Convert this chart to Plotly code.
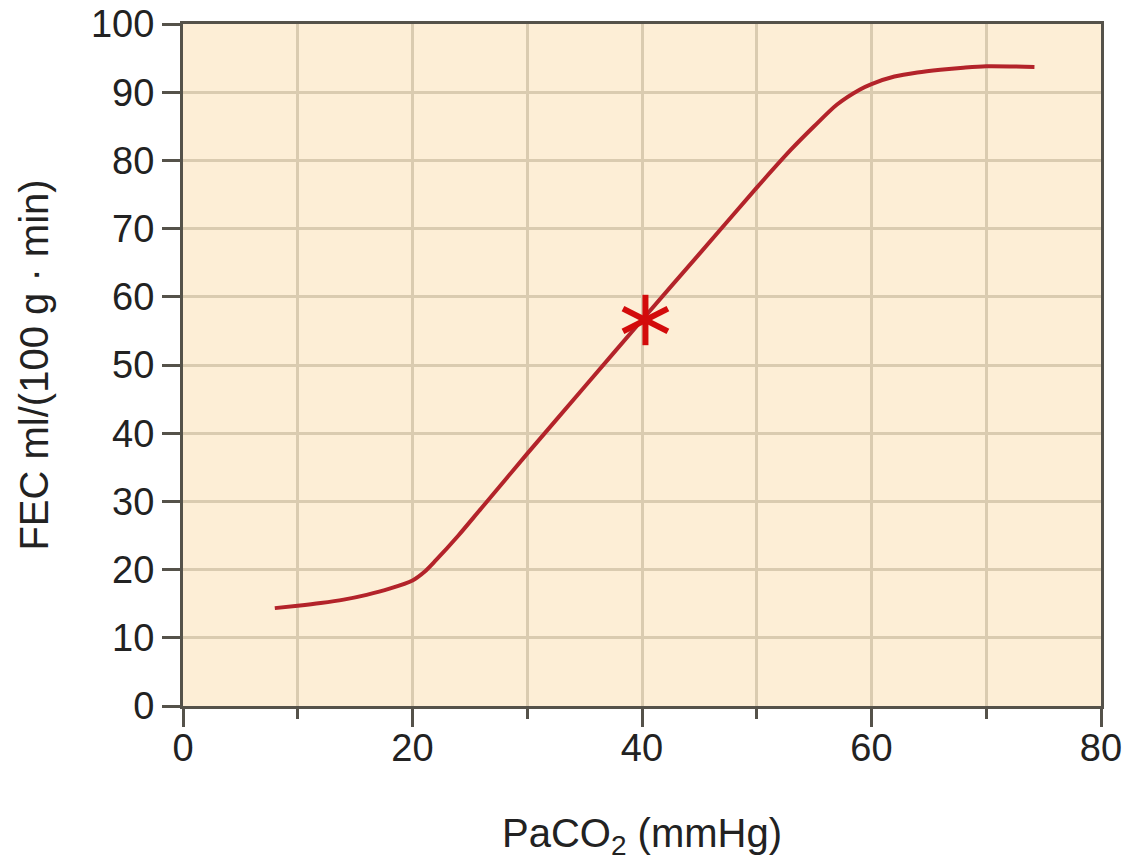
import plotly.graph_objects as go

# Curve data
paco2 = [8.0, 10, 12, 14, 16, 18, 20, 21, 22, 24, 26, 30, 35, 40, 45, 50,
         53, 55, 57, 59, 60, 62, 64, 66, 68, 70, 74.2]
fec = [14.35, 14.7, 15.1, 15.6, 16.3, 17.2, 18.4, 19.6, 21.3, 25.0, 29.0, 37.0, 46.8,
       56.6, 66.3, 76.0, 81.6, 85.0, 88.2, 90.4, 91.2, 92.3, 92.9, 93.3, 93.6, 93.8, 93.7]

# Normal point (asterisk)
star_x = 40.3
star_y = 56.6
star_angles = [0, 63, -63]

x_major_ticks = [0, 20, 40, 60, 80]
y_ticks = [0, 10, 20, 30, 40, 50, 60, 70, 80, 90, 100]

font_family = "Liberation Sans, Arial, sans-serif"
grid_col = "#dacbb0"
axis_col = "#55524a"
star_col = "#d30b0b"

fig = go.Figure()
fig.add_trace(go.Scatter(
    x=paco2, y=fec, mode="lines",
    line=dict(color="#b3232a", width=4, shape="spline", smoothing=0.8),
    hoverinfo="skip", showlegend=False,
))
fig.add_trace(go.Scatter(
    x=[star_x] * len(star_angles), y=[star_y] * len(star_angles), mode="markers",
    marker=dict(symbol="line-ns-open", size=36, angle=star_angles, color=star_col,
                line=dict(color=star_col, width=6)),
    hoverinfo="skip", showlegend=False,
))

# The page body has an 8 px margin, so the figure is sized and offset to match
fig.update_layout(
    width=1123, height=855,
    margin=dict(l=175, r=30, t=16, b=157),
    paper_bgcolor="white",
    plot_bgcolor="#fdeed6",
    font=dict(family=font_family, size=38, color="#222222"),
    xaxis=dict(
        range=[0, 80], tickvals=x_major_ticks, ticks="outside", ticklen=18, tickwidth=3,
        tickcolor=axis_col, showline=True, linecolor=axis_col, linewidth=3, mirror=True,
        showgrid=True, gridcolor=grid_col, gridwidth=3, zeroline=False, automargin=False,
        minor=dict(dtick=10, ticks="outside", ticklen=10, tickwidth=3, tickcolor=axis_col,
                   showgrid=True, gridcolor=grid_col, gridwidth=3),
        tickfont=dict(size=38), ticklabelstandoff=-12, ticklabeloverflow="allow",
        title=dict(text="PaCO<sub>2</sub> (mmHg)", font=dict(size=40), standoff=52),
    ),
    yaxis=dict(
        range=[0, 100], tickvals=y_ticks, ticks="outside", ticklen=18, tickwidth=3,
        tickcolor=axis_col, showline=True, linecolor=axis_col, linewidth=3, mirror=True,
        showgrid=True, gridcolor=grid_col, gridwidth=3, zeroline=False, automargin=False,
        tickfont=dict(size=38), ticklabeloverflow="allow",
        title=dict(text="FEC ml/(100 g · min)", font=dict(size=40), standoff=30),
    ),
)

fig.write_html("out.html")
